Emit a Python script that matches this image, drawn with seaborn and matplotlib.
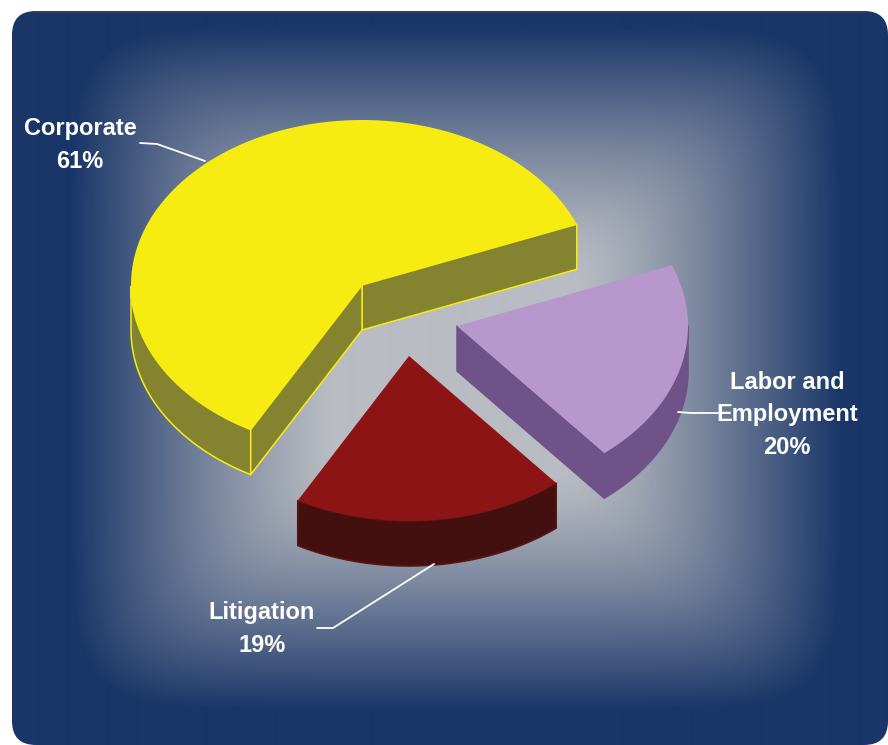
import numpy as np
import matplotlib
matplotlib.use("Agg")
import matplotlib.pyplot as plt
from matplotlib.patches import FancyBboxPatch
import seaborn as sns

# Practice mix
categories = ["Corporate", "Litigation", "Labor and\nEmployment"]
shares = [61, 19, 20]

# Pie shape on a canvas measured in pixels
START_ANGLE = 21.6
CENTER = (362, 285)
RX, RY = 231, 165
DEPTH = 45
explode = [(0, 0), (47, 71), (95, 41)]

sns.set_theme(style="white")
plt.rcParams["font.family"] = ["Liberation Sans", "DejaVu Sans"]

top_colors = sns.color_palette(["#f7ec12", "#8d1414", "#b898cc"])
side_colors = sns.color_palette(["#84832f", "#43100f", "#6f5288"])
edge_colors = ["#f7ec12", "#5a1414", "#6f5288"]
backdrop = sns.blend_palette(["#b9bcc2", "#1a3668"], n_colors=256, as_cmap=True)

fig = plt.figure(figsize=(8.88, 7.45), dpi=100, facecolor="white")
ax = fig.add_axes([0, 0, 1, 1])
ax.set_xlim(0, 888)
ax.set_ylim(745, 0)
ax.axis("off")

# Rounded panel filled with a rectangular glow
panel = FancyBboxPatch((34, 33), 832, 690, boxstyle="round,pad=22,rounding_size=24",
                       facecolor="none", edgecolor="none", transform=ax.transData)
ax.add_patch(panel)
xx, yy = np.meshgrid(np.arange(0, 888), np.arange(0, 745))
tx = np.abs(xx - 455) / 405
ty = np.abs(yy - 368) / 360
strength = (tx ** 8 + ty ** 8) ** (1 / 8)
glow = np.clip((strength - 0.3) / 0.65, 0, 1) ** 1.2
img = ax.imshow(glow, cmap=backdrop, vmin=0, vmax=1, extent=(0, 888, 745, 0),
                aspect="auto", interpolation="bilinear", zorder=1)
img.set_clip_path(panel)
ax.plot([34, 866], [11.5, 11.5], color="#3c3f48", lw=1.2, zorder=2)


def rim(apex, angles):
    """Points on the pie's rim for angles in degrees, counter-clockwise on screen."""
    rad = np.radians(angles)
    return apex[0] + RX * np.cos(rad), apex[1] - RY * np.sin(rad)


def quad(xa, ya, color, edge, z):
    """Extrude a polyline downwards by the pie's depth and fill the wall."""
    px = np.concatenate([xa, xa[::-1]])
    py = np.concatenate([ya, (ya + DEPTH)[::-1]])
    ax.fill(px, py, facecolor=color, edgecolor=edge, linewidth=1.1, joinstyle="round", zorder=z)


spans = np.array(shares) / sum(shares) * 360
starts = START_ANGLE + np.concatenate([[0], np.cumsum(spans)[:-1]])

for i, (span, start) in enumerate(zip(spans, starts)):
    end = start + span
    apex = (CENTER[0] + explode[i][0], CENTER[1] + explode[i][1])
    z = 3 + i
    top, side, edge = top_colors[i], side_colors[i], edge_colors[i]

    theta = np.linspace(start, end, 200)
    sweep = np.sin(np.radians(theta)) < 0
    if sweep.any():
        ax_x, ax_y = rim(apex, theta[sweep])
        quad(ax_x, ax_y, side, edge, z)

    # Flat cut faces show only where they turn towards the viewer
    for angle, facing in ((start, np.cos(np.radians(start)) > 0),
                          (end, np.cos(np.radians(end)) < 0)):
        if facing:
            ex, ey = rim(apex, np.array([angle]))
            quad(np.array([apex[0], ex[0]]), np.array([apex[1], ey[0]]), side, edge, z)

    rx, ry = rim(apex, theta)
    ax.fill(np.r_[apex[0], rx], np.r_[apex[1], ry], facecolor=top, edgecolor="none", zorder=z + 0.5)

# Callouts
label_spots = [(80, 145), (262, 629), (787, 415)]
leaders = [
    ([140, 157, 205], [143, 144, 161]),
    ([317, 333, 434], [628, 628, 564]),
    ([678, 690, 718], [412, 413, 413]),
]
for name, share, spot, (lx, ly) in zip(categories, shares, label_spots, leaders):
    ax.plot(lx, ly, color="white", lw=1.3, zorder=8)
    ax.text(spot[0], spot[1], f"{name}\n{share}%", color="white", fontsize=17, fontweight="bold",
            ha="center", va="center", linespacing=1.55, zorder=9)

fig.savefig("out.png", dpi=100, facecolor="white")
